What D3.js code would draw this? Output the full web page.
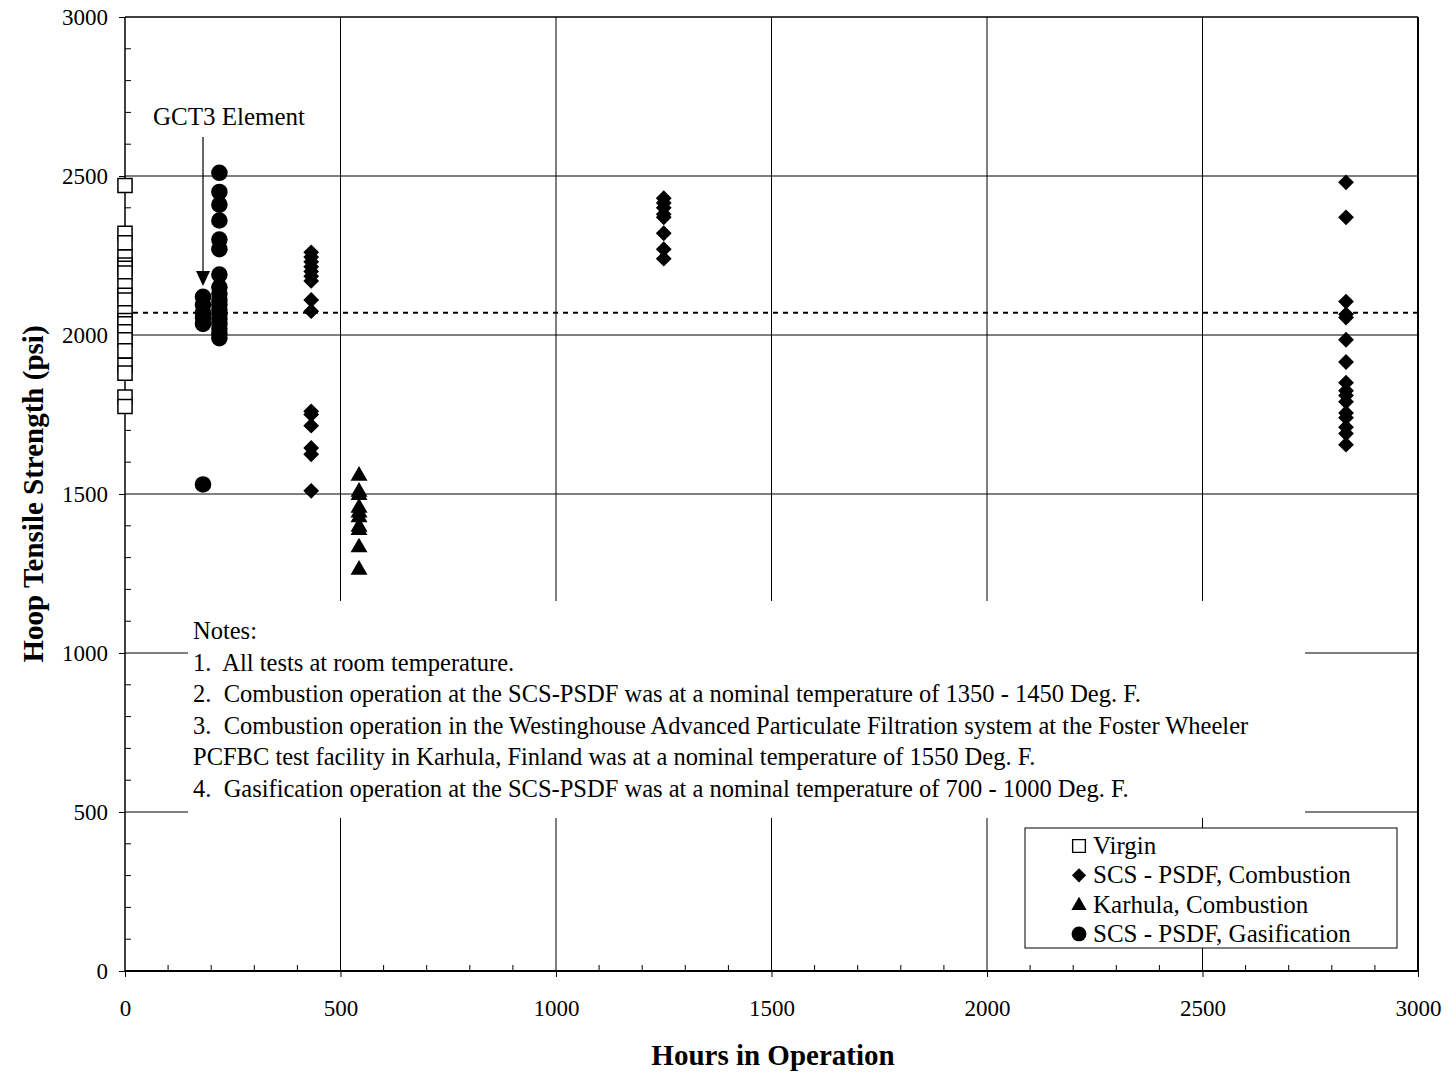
<!DOCTYPE html>
<html>
<head>
<meta charset="utf-8">
<script src="https://cdn.jsdelivr.net/npm/d3@7"></script>
<style>
  html, body { margin: 0; padding: 0; background: #fff; }
  svg { display: block; font-family: "Liberation Serif", "Times New Roman", serif; }
  text { white-space: pre; }
</style>
</head>
<body>
<svg id="chart" width="1451" height="1074"></svg>
<script>
// Hoop tensile strength (psi) of filter elements vs. hours in operation

const xTicks = [0, 500, 1000, 1500, 2000, 2500, 3000];
const yTicks = [0, 500, 1000, 1500, 2000, 2500, 3000];

// Virgin elements (0 hours)
const virginHours = 0;
const virginValues = [2470, 2320, 2290, 2245, 2220, 2210, 2195, 2155, 2125, 2110,
                      2070, 2045, 2035, 2010, 1985, 1950, 1905, 1880, 1805, 1775];

// SCS-PSDF combustion
const combustionGroups = [
  { hours: 432, values: [2260, 2245, 2230, 2215, 2200, 2185, 2170, 2110, 2075, 1760, 1750, 1715, 1645, 1625, 1510] },
  { hours: 1250, values: [2430, 2415, 2400, 2380, 2370, 2320, 2270, 2240] },
  { hours: 2833, values: [2480, 2370, 2105, 2065, 2055, 1985, 1915, 1850, 1825, 1810, 1790, 1755, 1740, 1710, 1690, 1655] }
];

// Karhula combustion
const karhulaHours = 543;
const karhulaValues = [1560, 1510, 1500, 1460, 1445, 1430, 1400, 1390, 1335, 1265];

// SCS-PSDF gasification
const gasificationGroups = [
  { hours: 181, values: [2120, 2095, 2070, 2055, 2035, 1530] },
  { hours: 219, values: [2510, 2450, 2410, 2360, 2300, 2270, 2190, 2150, 2130, 2110, 2095,
                          2080, 2065, 2050, 2035, 2020, 2005, 1990] }
];

const virginMean = 2070;

const notes = [
  "Notes:",
  "1.  All tests at room temperature.",
  "2.  Combustion operation at the SCS-PSDF was at a nominal temperature of 1350 - 1450 Deg. F.",
  "3.  Combustion operation in the Westinghouse Advanced Particulate Filtration system at the Foster Wheeler",
  "PCFBC test facility in Karhula, Finland was at a nominal temperature of 1550 Deg. F.",
  "4.  Gasification operation at the SCS-PSDF was at a nominal temperature of 700 - 1000 Deg. F."
];

const legendItems = [
  { label: "Virgin", shape: "square" },
  { label: "SCS - PSDF, Combustion", shape: "diamond" },
  { label: "Karhula, Combustion", shape: "triangle" },
  { label: "SCS - PSDF, Gasification", shape: "circle" }
];

const margin = { left: 125, top: 17, right: 33, bottom: 103 };
const W = 1451, H = 1074;
const pw = W - margin.left - margin.right;
const ph = H - margin.top - margin.bottom;

const svg = d3.select("#chart");
const g = svg.append("g").attr("transform", `translate(${margin.left},${margin.top})`);

const x = d3.scaleLinear().domain([0, 3000]).range([0, pw]);
const y = d3.scaleLinear().domain([0, 3000]).range([ph, 0]);

// grid lines
g.append("g").selectAll("line").data(xTicks.slice(1, -1)).join("line")
  .attr("x1", d => x(d)).attr("x2", d => x(d)).attr("y1", 0).attr("y2", ph)
  .attr("stroke", "#000").attr("stroke-width", 1);
g.append("g").selectAll("line").data(yTicks.slice(1, -1)).join("line")
  .attr("x1", 0).attr("x2", pw).attr("y1", d => y(d)).attr("y2", d => y(d))
  .attr("stroke", "#000").attr("stroke-width", 1);

// notes panel (white, masks the grid)
const notesBox = { x0: 188, y0: 601, x1: 1305, y1: 818 };
svg.append("rect")
  .attr("x", notesBox.x0).attr("y", notesBox.y0)
  .attr("width", notesBox.x1 - notesBox.x0).attr("height", notesBox.y1 - notesBox.y0)
  .attr("fill", "#fff");
svg.append("g").selectAll("text").data(notes).join("text")
  .attr("x", 193)
  .attr("y", (d, i) => 639 + i * 31.6)
  .attr("font-size", 24.5)
  .attr("fill", "#000")
  .text(d => d);

// virgin mean reference line
g.append("line")
  .attr("x1", x(0) + 8).attr("x2", pw)
  .attr("y1", y(virginMean)).attr("y2", y(virginMean))
  .attr("stroke", "#000").attr("stroke-width", 2)
  .attr("stroke-dasharray", "5,5");

// axes frame
g.append("line").attr("x1", 0).attr("x2", pw).attr("y1", 0).attr("y2", 0)
  .attr("stroke", "#000").attr("stroke-width", 1.5);
g.append("line").attr("x1", pw).attr("x2", pw).attr("y1", 0).attr("y2", ph)
  .attr("stroke", "#000").attr("stroke-width", 2);
g.append("line").attr("x1", 0).attr("x2", pw).attr("y1", ph).attr("y2", ph)
  .attr("stroke", "#000").attr("stroke-width", 2);
g.append("line").attr("x1", 0).attr("x2", 0).attr("y1", 0).attr("y2", ph)
  .attr("stroke", "#000").attr("stroke-width", 1.5);

// minor ticks (inside)
const minorX = d3.range(100, 3000, 100).filter(d => d % 500 !== 0);
const minorY = d3.range(100, 3000, 100).filter(d => d % 500 !== 0);
g.append("g").selectAll("line").data(minorX).join("line")
  .attr("x1", d => x(d)).attr("x2", d => x(d)).attr("y1", ph).attr("y2", ph - 6)
  .attr("stroke", "#000").attr("stroke-width", 1);
g.append("g").selectAll("line").data(minorY).join("line")
  .attr("x1", 0).attr("x2", 6).attr("y1", d => y(d)).attr("y2", d => y(d))
  .attr("stroke", "#000").attr("stroke-width", 1);

// major ticks + labels via d3 axes
const xAxis = d3.axisBottom(x).tickValues(xTicks).tickSize(6).tickPadding(23).tickFormat(d3.format("d"));
const yAxis = d3.axisLeft(y).tickValues(yTicks).tickSize(6).tickPadding(11).tickFormat(d3.format("d"));
const gx = g.append("g").attr("transform", `translate(0,${ph})`).call(xAxis);
const gy = g.append("g").call(yAxis);
[gx, gy].forEach(a => {
  a.select(".domain").remove();
  a.selectAll("line").attr("stroke", "#000");
  a.selectAll("text").attr("font-family", "Liberation Serif, Times New Roman, serif")
    .attr("font-size", 23).attr("fill", "#000");
});

// axis titles
svg.append("text")
  .attr("x", 773).attr("y", 1065)
  .attr("text-anchor", "middle").attr("font-size", 29).attr("font-weight", "bold")
  .text("Hours in Operation");
svg.append("text")
  .attr("transform", `translate(43,494) rotate(-90)`)
  .attr("text-anchor", "middle").attr("font-size", 29).attr("font-weight", "bold")
  .text("Hoop Tensile Strength (psi)");

// markers
const sym = {
  square: d3.symbol().type(d3.symbolSquare).size(200),
  diamond: d3.symbol().type(d3.symbolSquare).size(125),
  triangle: d3.symbol().type(d3.symbolTriangle).size(125),
  circle: d3.symbol().type(d3.symbolCircle).size(215)
};
function drawMarker(sel, shape) {
  const p = sel.append("path").attr("d", sym[shape]());
  if (shape === "square") p.attr("fill", "#fff").attr("stroke", "#000").attr("stroke-width", 1.5);
  else p.attr("fill", "#000");
  if (shape === "diamond") p.attr("transform", "rotate(45)");
  if (shape === "triangle") p.attr("transform", "translate(0,1)");
  return p;
}

function plotGroup(hours, values, shape) {
  const grp = g.append("g");
  values.forEach(v => {
    const m = grp.append("g").attr("transform", `translate(${x(hours)},${y(v)})`);
    drawMarker(m, shape);
  });
}

plotGroup(virginHours, virginValues, "square");
combustionGroups.forEach(c => plotGroup(c.hours, c.values, "diamond"));
plotGroup(karhulaHours, karhulaValues, "triangle");
gasificationGroups.forEach(c => plotGroup(c.hours, c.values, "circle"));

// GCT3 annotation
const arrowX = x(gasificationGroups[0].hours) + margin.left;
svg.append("text").attr("x", 153).attr("y", 125).attr("font-size", 25).text("GCT3 Element");
svg.append("line").attr("x1", arrowX).attr("x2", arrowX).attr("y1", 137).attr("y2", 272)
  .attr("stroke", "#000").attr("stroke-width", 1.2);
svg.append("path")
  .attr("d", `M${arrowX - 7},271 L${arrowX + 7},271 L${arrowX},286 Z`)
  .attr("fill", "#000");

// legend
const lg = svg.append("g");
lg.append("rect").attr("x", 1025).attr("y", 828).attr("width", 372).attr("height", 120)
  .attr("fill", "#fff").attr("stroke", "#000").attr("stroke-width", 1);
legendItems.forEach((it, i) => {
  const cy = 846 + i * 29.3;
  const m = lg.append("g").attr("transform", `translate(1079,${cy}) scale(0.9)`);
  drawMarker(m, it.shape);
  lg.append("text").attr("x", 1093).attr("y", cy + 8).attr("font-size", 25).text(it.label);
});
</script>
</body>
</html>
